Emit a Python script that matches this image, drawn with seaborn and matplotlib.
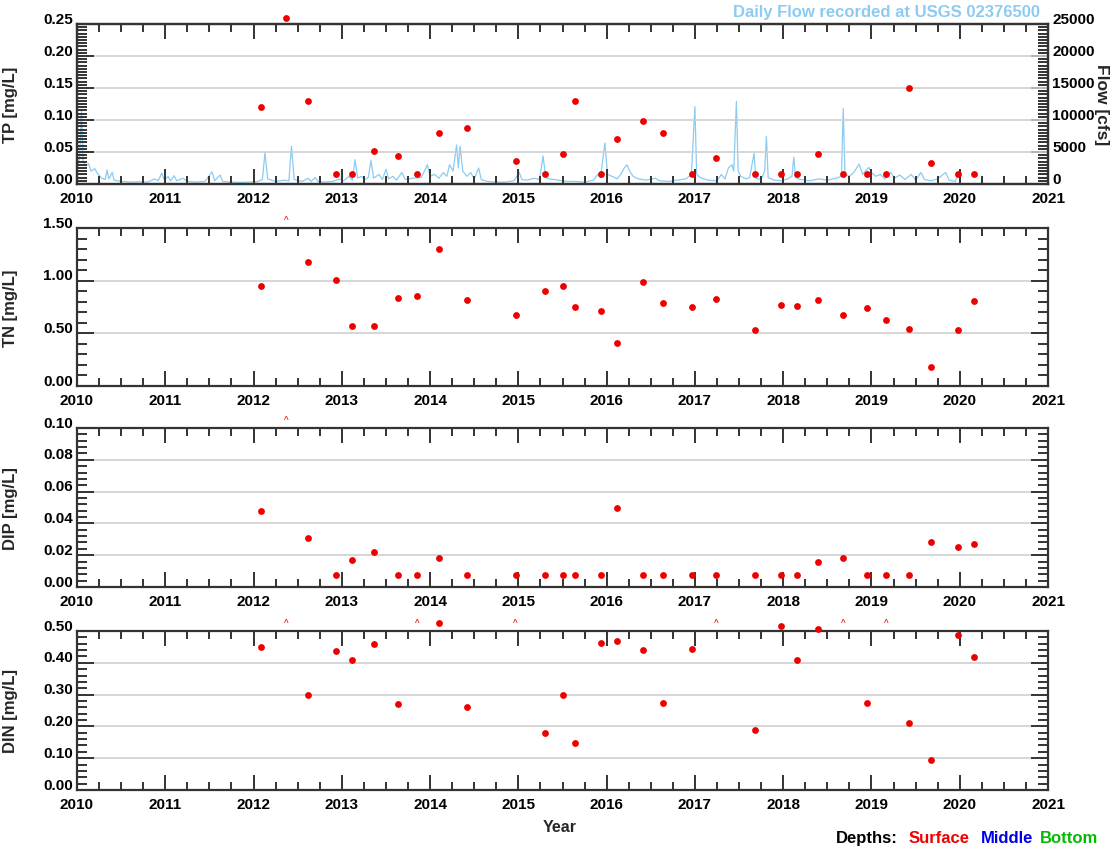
import numpy as np
import pandas as pd
import matplotlib
matplotlib.use("Agg")
import matplotlib.pyplot as plt
import matplotlib.transforms as mtransforms
from matplotlib.ticker import MultipleLocator, FormatStrFormatter
import seaborn as sns

# ---- sampling dates (decimal year) and surface values ----
sample_year = [2012.08, 2012.37, 2012.62, 2012.93, 2013.12, 2013.37, 2013.64, 2013.85,
               2014.10, 2014.42, 2014.97, 2015.30, 2015.51, 2015.64, 2015.94, 2016.12,
               2016.41, 2016.64, 2016.97, 2017.24, 2017.68, 2017.97, 2018.16, 2018.39,
               2018.68, 2018.95, 2019.17, 2019.42, 2019.67, 2019.98, 2020.16]

tp = [0.120, 0.259, 0.130, 0.015, 0.015, 0.052, 0.044, 0.015, 0.079, 0.087, 0.036,
      0.015, 0.047, 0.130, 0.016, 0.070, 0.099, 0.079, 0.016, 0.040, 0.016, 0.016,
      0.016, 0.047, 0.016, 0.016, 0.016, 0.150, 0.033, 0.016, 0.016]

tn = [0.95, 1.85, 1.18, 1.01, 0.57, 0.57, 0.84, 0.85, 1.30, 0.82, 0.67, 0.90, 0.95,
      0.75, 0.71, 0.41, 0.99, 0.79, 0.75, 0.83, 0.53, 0.77, 0.76, 0.82, 0.67, 0.74,
      0.63, 0.54, 0.18, 0.53, 0.81]

dip = [0.048, 0.140, 0.031, 0.0075, 0.017, 0.022, 0.0075, 0.0075, 0.018, 0.0075,
       0.0075, 0.0075, 0.0075, 0.0075, 0.0075, 0.050, 0.0075, 0.0075, 0.0075, 0.0075,
       0.0075, 0.0075, 0.0075, 0.016, 0.018, 0.0075, 0.0075, 0.0075, 0.028, 0.025, 0.027]

din = [0.449, 0.62, 0.298, 0.438, 0.410, 0.458, 0.270, 0.58, 0.524, 0.260, 0.60,
       0.180, 0.300, 0.149, 0.463, 0.470, 0.441, 0.273, 0.443, 0.57, 0.189, 0.517,
       0.410, 0.507, 0.61, 0.273, 0.59, 0.211, 0.094, 0.487, 0.419]

# ---- daily flow at USGS 02376500 ----
flow_year = [2010.00, 2010.03, 2010.05, 2010.07, 2010.10, 2010.13, 2010.16, 2010.20, 2010.24,
             2010.28, 2010.32, 2010.34, 2010.36, 2010.40, 2010.42, 2010.50, 2010.60, 2010.70,
             2010.80, 2010.88, 2010.92, 2010.96, 2010.99, 2011.03, 2011.06, 2011.10, 2011.13,
             2011.20, 2011.25, 2011.35, 2011.45, 2011.53, 2011.56, 2011.62, 2011.65, 2011.75,
             2011.85, 2011.95, 2012.05, 2012.10, 2012.13, 2012.16, 2012.25, 2012.35, 2012.40,
             2012.43, 2012.46, 2012.55, 2012.62, 2012.65, 2012.70, 2012.73, 2012.80, 2012.90,
             2012.98, 2013.02, 2013.08, 2013.12, 2013.15, 2013.18, 2013.22, 2013.26, 2013.30,
             2013.33, 2013.36, 2013.42, 2013.46, 2013.50, 2013.53, 2013.58, 2013.62, 2013.68,
             2013.72, 2013.80, 2013.90, 2013.97, 2014.00, 2014.05, 2014.10, 2014.15, 2014.19,
             2014.22, 2014.26, 2014.30, 2014.32, 2014.34, 2014.37, 2014.42, 2014.46, 2014.50,
             2014.55, 2014.58, 2014.65, 2014.75, 2014.85, 2014.95, 2015.01, 2015.04, 2015.10,
             2015.18, 2015.24, 2015.28, 2015.31, 2015.36, 2015.45, 2015.55, 2015.65, 2015.75,
             2015.85, 2015.90, 2015.93, 2015.98, 2016.01, 2016.06, 2016.12, 2016.16, 2016.20,
             2016.23, 2016.26, 2016.30, 2016.36, 2016.45, 2016.55, 2016.60, 2016.70, 2016.80,
             2016.90, 2016.96, 2017.00, 2017.02, 2017.06, 2017.15, 2017.25, 2017.30, 2017.34,
             2017.38, 2017.42, 2017.44, 2017.47, 2017.49, 2017.52, 2017.58, 2017.62, 2017.67,
             2017.69, 2017.75, 2017.79, 2017.81, 2017.83, 2017.90, 2017.98, 2018.05, 2018.10,
             2018.12, 2018.14, 2018.20, 2018.30, 2018.40, 2018.50, 2018.60, 2018.66, 2018.68,
             2018.70, 2018.75, 2018.80, 2018.86, 2018.90, 2018.97, 2019.00, 2019.05, 2019.10,
             2019.15, 2019.22, 2019.26, 2019.32, 2019.38, 2019.45, 2019.50, 2019.56, 2019.60,
             2019.68, 2019.75, 2019.84, 2019.88, 2019.95, 2019.98]
flow_cfs = [2500, 4000, 11600, 3500, 2800, 3200, 2000, 2400, 1500,
            900, 700, 2200, 800, 1800, 600, 400, 300, 350,
            300, 800, 500, 1700, 600, 1200, 500, 1300, 500,
            900, 400, 300, 400, 1900, 500, 1400, 400, 300,
            250, 300, 400, 700, 4900, 800, 400, 600, 500,
            5900, 700, 400, 900, 400, 1000, 400, 300, 400,
            800, 500, 1200, 600, 3800, 900, 1200, 700, 1000,
            3700, 900, 1500, 700, 2300, 800, 1200, 600, 1800,
            700, 900, 1000, 3000, 1200, 1500, 900, 1800, 1200,
            3000, 2000, 6100, 2500, 5900, 2000, 1200, 1800, 800,
            2500, 700, 400, 300, 300, 500, 1800, 700, 600,
            900, 700, 4400, 1000, 800, 600, 400, 400, 300,
            600, 1500, 1000, 6400, 1500, 1200, 800, 1500, 2500,
            3000, 2000, 1200, 800, 600, 900, 500, 400, 600,
            800, 1500, 12100, 1500, 1000, 600, 500, 1500, 800,
            2500, 3000, 2000, 12900, 2000, 1200, 800, 1000, 4800,
            900, 700, 2000, 7400, 1000, 600, 500, 800, 1200,
            4200, 1000, 700, 500, 800, 600, 900, 1200, 11800,
            1500, 1200, 1800, 3100, 1500, 2600, 1800, 1200, 1500,
            800, 1800, 900, 1400, 700, 1500, 600, 1800, 700,
            500, 800, 1800, 600, 400, 1500]

# ---- style ----
sns.set_style("white")
plt.rcParams["font.family"] = ["Liberation Sans", "DejaVu Sans"]
plt.rcParams["font.weight"] = "bold"

RED = "#ee0000"
FLOW = "#8ccbf2"
AXC = "#333333"
GRID = "#cfcfcf"

fig = plt.figure(figsize=(11.2, 8.53), dpi=100)

W, H = 1120, 853
left_px, right_px = 77, 1048
panels_px = [(25, 185), (229, 387), (429, 588), (632, 791)]

panels = [
    (tp, "TP [mg/L]", 0.25, 0.05, 0.005),
    (tn, "TN [mg/L]", 1.50, 0.50, 0.10),
    (dip, "DIP [mg/L]", 0.10, 0.02, 0.004),
    (din, "DIN [mg/L]", 0.50, 0.10, 0.02),
]

label_up = mtransforms.ScaledTranslation(0, 5 / 72, fig.dpi_scale_trans)


def style_axis(ax, ymax, major, minor, right_ticks=True):
    ax.set_xlim(2010, 2021)
    ax.set_ylim(0, ymax)
    ax.xaxis.set_major_locator(MultipleLocator(1))
    ax.xaxis.set_minor_locator(MultipleLocator(0.25))
    ax.xaxis.set_major_formatter(FormatStrFormatter("%d"))
    ax.yaxis.set_major_locator(MultipleLocator(major))
    ax.yaxis.set_minor_locator(MultipleLocator(minor))
    ax.yaxis.set_major_formatter(FormatStrFormatter("%.2f"))
    ax.tick_params(axis="x", which="both", direction="in", top=True, bottom=True,
                   colors=AXC, labelcolor="black", labelsize=11, width=1.4, pad=5)
    ax.tick_params(axis="x", which="major", length=11)
    ax.tick_params(axis="x", which="minor", length=6)
    ax.tick_params(axis="y", which="both", direction="in", left=True, right=right_ticks,
                   colors=AXC, labelcolor="black", labelsize=11, width=1.4, pad=3)
    ax.tick_params(axis="y", which="major", length=12)
    ax.tick_params(axis="y", which="minor", length=7)
    for sp in ax.spines.values():
        sp.set_color(AXC)
        sp.set_linewidth(1.6)
    ax.grid(axis="y", which="major", color=GRID, linewidth=1.2)
    ax.grid(axis="x", visible=False)
    for lab in ax.get_yticklabels():
        lab.set_fontweight("bold")
        lab.set_transform(lab.get_transform() + label_up)
    for lab in ax.get_xticklabels():
        lab.set_fontweight("bold")


axes = []
for (vals, ylabel, ymax, major, minor), (top, bot) in zip(panels, panels_px):
    ax = fig.add_axes([left_px / W, 1 - bot / H, (right_px - left_px) / W, (bot - top) / H])
    axes.append(ax)
    style_axis(ax, ymax, major, minor, right_ticks=(ylabel != "TP [mg/L]"))

    df = pd.DataFrame({"year": sample_year, "value": vals})
    inside = df[df["value"] <= 1.1 * ymax]
    over = df[df["value"] > 1.1 * ymax]
    sns.scatterplot(data=inside, x="year", y="value", ax=ax, color=RED, s=24,
                    linewidth=0, clip_on=False, zorder=5)
    for yr in over["year"]:
        ax.annotate("^", (yr, ymax), xytext=(0, 5.5), textcoords="offset points",
                    ha="center", va="center", color=RED, fontsize=7,
                    fontweight="normal", annotation_clip=False)
    ax.set_xlabel("")
    ax.set_ylabel(ylabel, fontsize=12, fontweight="bold")
    ax.yaxis.set_label_coords(-0.061, 0.5)

# flow on twin axis of the TP panel
ax0 = axes[0]
tw = ax0.twinx()
flow = pd.DataFrame({"year": flow_year, "cfs": flow_cfs})
sns.lineplot(data=flow, x="year", y="cfs", ax=tw, color=FLOW, linewidth=0.9,
             estimator=None, sort=False)
tw.set_ylim(0, 25000)
tw.yaxis.set_major_locator(MultipleLocator(5000))
tw.yaxis.set_minor_locator(MultipleLocator(500))
tw.yaxis.set_major_formatter(FormatStrFormatter("%d"))
tw.tick_params(axis="y", which="both", direction="in", right=True, left=False,
               colors=AXC, labelcolor="black", labelsize=11, width=1.4, pad=3)
tw.tick_params(axis="y", which="major", length=12)
tw.tick_params(axis="y", which="minor", length=7)
for lab in tw.get_yticklabels():
    lab.set_fontweight("bold")
    lab.set_transform(lab.get_transform() + label_up)
tw.set_xlabel("")
tw.set_ylabel("Flow [cfs]", fontsize=12.5, fontweight="bold", rotation=-90)
tw.yaxis.set_label_coords(1.063, 0.5)
for sp in tw.spines.values():
    sp.set_color(AXC)
    sp.set_linewidth(1.6)
ax0.set_zorder(tw.get_zorder() + 1)
ax0.patch.set_visible(False)

fig.text(1040 / W, 1 - 13 / H, "Daily Flow recorded at USGS 02376500", color=FLOW,
         fontsize=12, fontweight="bold", ha="right", va="center")

fig.text(560 / W, 1 - 828 / H, "Year", fontsize=11.5, fontweight="bold",
         ha="center", va="center")

legend_parts = [("Depths:", "black", 836), ("Surface", RED, 909),
                ("Middle", "#0000ee", 981), ("Bottom", "#00bb00", 1040)]
for txt, col, xpx in legend_parts:
    fig.text(xpx / W, 1 - 839 / H, txt, color=col, fontsize=12, fontweight="bold",
             ha="left", va="center")

fig.savefig("out.png", dpi=100)
